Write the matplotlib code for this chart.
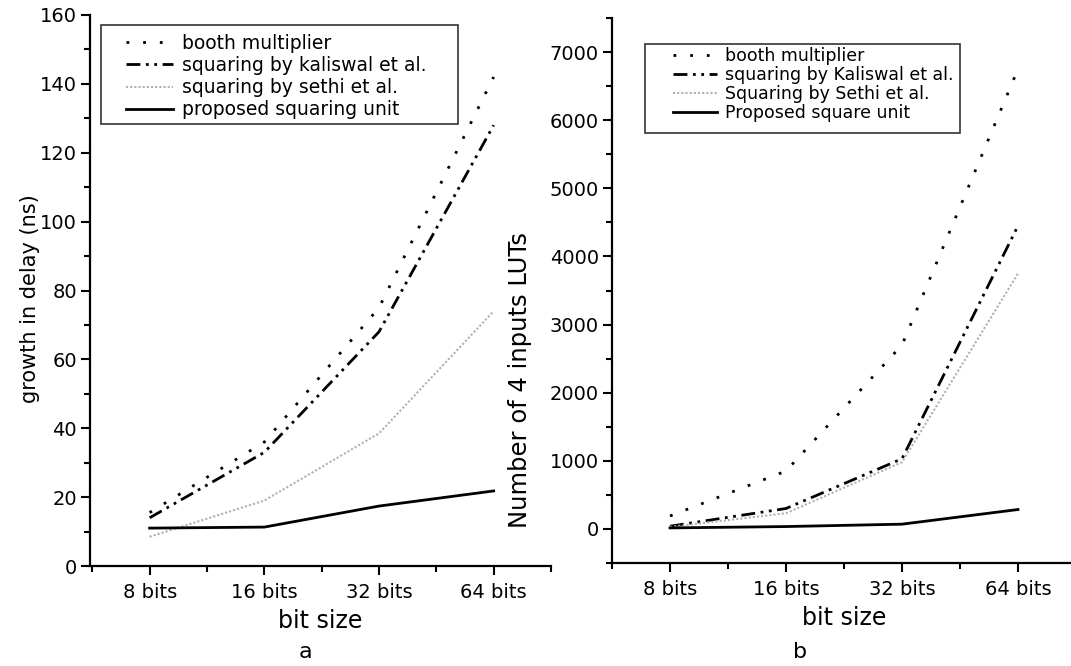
"""Delay and LUT count of squaring units vs bit size (two panels, a and b)."""
import matplotlib
matplotlib.use('Agg')
import matplotlib.pyplot as plt
from matplotlib.patches import Rectangle
from matplotlib.ticker import MultipleLocator

plt.rcParams['font.family'] = ['DejaVu Sans']

bit_sizes = ['8 bits', '16 bits', '32 bits', '64 bits']

# panel a: growth in delay (ns)
delay_booth = [15.5, 36, 75, 142]
delay_kaliswal = [14, 33, 68, 128]
delay_sethi = [8.5, 19, 38.5, 74]
delay_proposed = [11, 11.3, 17.4, 21.8]
labels_a = ['booth multiplier', 'squaring by kaliswal et al.',
            'squaring by sethi et al.', 'proposed squaring unit']

# panel b: number of 4 input LUTs
luts_booth = [190, 850, 2700, 6750]
luts_kaliswal = [40, 300, 1030, 4450]
luts_sethi = [30, 230, 980, 3750]
luts_proposed = [15, 35, 70, 285]
labels_b = ['booth multiplier', 'squaring by Kaliswal et al.',
            'Squaring by Sethi et al.', 'Proposed square unit']

W, H = 1071, 666
styles = [
    dict(color='black', lw=2.0, linestyle=(0, (1, 5))),
    dict(color='black', lw=2.0, linestyle=(0, (5, 2, 1, 2, 1, 2))),
    dict(color='#b0b0b0', lw=1.5, linestyle=(0, (1, 1))),
    dict(color='black', lw=2.0, linestyle='-'),
]


def px_axes(x0, y0, x1, y1):
    # pixel box (top-left origin) -> figure fraction
    return [x0 / W, 1 - y1 / H, (x1 - x0) / W, (y1 - y0) / H]


def style_axes(ax):
    for side in ('top', 'right'):
        ax.spines[side].set_visible(False)
    for side in ('left', 'bottom'):
        ax.spines[side].set_linewidth(1.6)
    ax.tick_params(which='major', direction='out', length=6.5, width=1.5,
                   labelsize=14, pad=3)
    ax.tick_params(which='minor', direction='out', length=4, width=1.5)
    ax.set_xticks(range(len(bit_sizes)))
    ax.set_xticklabels(bit_sizes)
    ax.xaxis.set_minor_locator(MultipleLocator(0.5))
    ax.tick_params(axis='x', which='major', pad=6)


def add_legend(ax, series, labels, anchor, fontsize, spacing, box):
    handles = []
    for vals, st in zip(series, styles):
        (h,) = ax.plot(range(len(vals)), vals, **st)
        handles.append(h)
    ax.legend(handles, labels, loc='upper left', bbox_to_anchor=anchor,
              frameon=False, fontsize=fontsize, borderpad=0,
              handlelength=2.5, handletextpad=0.5, labelspacing=spacing,
              borderaxespad=0)
    ax.add_patch(Rectangle((box[0], box[1]), box[2], box[3],
                           transform=ax.transAxes, fill=False,
                           edgecolor='#333333', lw=1.2, clip_on=False))


fig = plt.figure(figsize=(W / 100, H / 100), dpi=100)

# panel a
ax1 = fig.add_axes(px_axes(90, 15, 551, 566))
style_axes(ax1)
add_legend(ax1, [delay_booth, delay_kaliswal, delay_sethi, delay_proposed],
           labels_a, (0.078, 0.966), 13.5, 0.17,
           ((101 - 90) / 461, (566 - 124) / 551, 357 / 461, 99 / 551))
ax1.set_xlim(-0.52, 3.5)
ax1.set_ylim(0, 160)
ax1.yaxis.set_major_locator(MultipleLocator(20))
ax1.yaxis.set_minor_locator(MultipleLocator(10))
ax1.set_xlabel('bit size', fontsize=17, labelpad=5)
ax1.set_ylabel('growth in delay (ns)', fontsize=15)
ax1.yaxis.set_label_coords(-0.108, 0.485)

# panel b
ax2 = fig.add_axes(px_axes(612, 18, 1076, 563))
style_axes(ax2)
add_legend(ax2, [luts_booth, luts_kaliswal, luts_sethi, luts_proposed],
           labels_b, (0.132, 0.947), 12.5, 0.06,
           ((645 - 612) / 464, (563 - 133) / 545, 315 / 464, 89 / 545))
ax2.set_xlim(-0.5, 3.5)
ax2.set_ylim(-500, 7500)
ax2.yaxis.set_major_locator(MultipleLocator(1000))
ax2.yaxis.set_minor_locator(MultipleLocator(500))
ax2.set_yticks(range(0, 7001, 1000))
ax2.set_xlabel('bit size', fontsize=17, labelpad=5)
ax2.set_ylabel('Number of 4 inputs LUTs', fontsize=17.5)
ax2.yaxis.set_label_coords(-0.172, 0.336)

fig.text(305 / W, 1 - 652 / H, 'a', fontsize=16, ha='center', va='center')
fig.text(800 / W, 1 - 652 / H, 'b', fontsize=16, ha='center', va='center')

fig.savefig('out.png', dpi=100)
